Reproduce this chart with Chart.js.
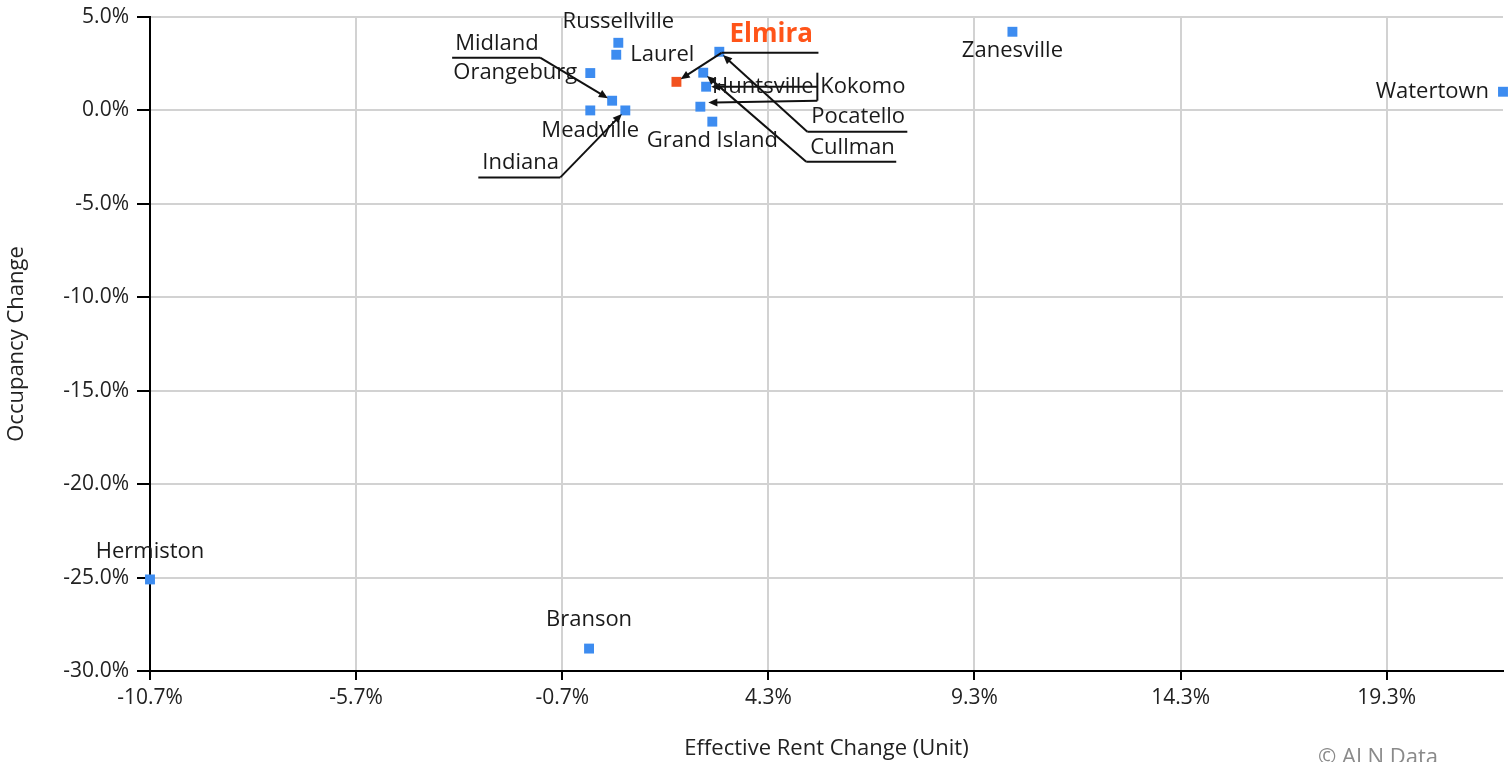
<!DOCTYPE html>
<html>
<head>
<meta charset="utf-8">
<script src="https://cdn.jsdelivr.net/npm/chart.js@4"></script>
<style>
html,body{margin:0;padding:0;background:#fff;}
#wrap{position:relative;width:1512px;height:762px;}
</style>
</head>
<body>
<div id="wrap"><canvas id="c" width="1512" height="762"></canvas></div>
<script>
// ---- data ----
const markets = ['Hermiston','Branson','Meadville','Orangeburg','Midland','Indiana','Laurel','Russellville','Elmira','Cullman','Huntsville','Kokomo','Grand Island','Pocatello','Zanesville','Watertown'];
const rentChange = [-10.7, -0.05, -0.02, -0.02, 0.51, 0.83, 0.61, 0.66, 2.07, 2.72, 2.79, 2.65, 2.94, 3.11, 10.22, 22.12];
const occupancyChange = [-25.1, -28.8, 0.0, 2.0, 0.52, 0.0, 2.98, 3.62, 1.53, 2.02, 1.27, 0.2, -0.6, 3.14, 4.21, 1.0];
const highlightMarket = 'Elmira';
const yTicks = [5, 0, -5, -10, -15, -20, -25, -30];
const xTickStart = -10.7, xTickStep = 5;

// ---- label layout (pixel offsets from each marker) ----
const labelLayout = {
  'Hermiston':   {dx: 0, dy: -28, align: 'center'},
  'Branson':     {dx: 0, dy: -29, align: 'center'},
  'Meadville':   {dx: 0, dy: 20, align: 'center'},
  'Orangeburg':  {dx: -13, dy: 0, align: 'right'},
  'Laurel':      {dx: 14, dy: 0, align: 'left'},
  'Russellville':{dx: 0, dy: -21, align: 'center'},
  'Grand Island':{dx: 0, dy: 19, align: 'center'},
  'Zanesville':  {dx: 0, dy: 19, align: 'center'},
  'Watertown':   {dx: -14, dy: 0, align: 'right'},
  'Midland':     {dx: -157, dy: -57, align: 'left', path: [[-160,-43],[-72,-43],[0,0]]},
  'Indiana':     {dx: -143, dy: 52, align: 'left', path: [[-147,67],[-65,67],[0,0]]},
  'Elmira':      {dx: 53, dy: -47, align: 'left', path: [[142,-29],[45,-29],[0,0]]},
  'Pocatello':   {dx: 92, dy: 65, align: 'left', path: [[188,80],[88,80],[0,0]]},
  'Cullman':     {dx: 107, dy: 75, align: 'left', path: [[193,89],[103,89],[0,0]]},
  'Kokomo':      {dx: 120, dy: -20, align: 'left', path: [[117,-34],[117,-6],[3,-4]]},
  'Huntsville':  {dx: 6, dy: 0, align: 'left', path: [[111,0],[0,0]]}
};

const BLUE = '#3d8cf0', ORANGE = '#f2521f', FONT = "'Open Sans', sans-serif";

const points = markets.map((m, i) => ({x: rentChange[i], y: occupancyChange[i], name: m}));
const colors = markets.map(m => m === highlightMarket ? ORANGE : BLUE);

function arrow(ctx, x1, y1, x2, y2) {
  const ang = Math.atan2(y2 - y1, x2 - x1);
  const tx = x2 - Math.cos(ang) * 5, ty = y2 - Math.sin(ang) * 5;
  ctx.beginPath();
  ctx.moveTo(x1, y1);
  ctx.lineTo(tx - Math.cos(ang) * 6, ty - Math.sin(ang) * 6);
  ctx.stroke();
  ctx.beginPath();
  ctx.moveTo(tx, ty);
  ctx.lineTo(tx - Math.cos(ang) * 9 + Math.sin(ang) * 4, ty - Math.sin(ang) * 9 - Math.cos(ang) * 4);
  ctx.lineTo(tx - Math.cos(ang) * 9 - Math.sin(ang) * 4, ty - Math.sin(ang) * 9 + Math.cos(ang) * 4);
  ctx.closePath();
  ctx.fill();
}

const labelPlugin = {
  id: 'labels',
  afterDatasetsDraw(chart) {
    const ctx = chart.ctx;
    const meta = chart.getDatasetMeta(0);
    ctx.save();
    meta.data.forEach((el, i) => {
      const name = markets[i];
      const L = labelLayout[name];
      if (!L) return;
      const px = el.x, py = el.y;
      if (L.path) {
        ctx.strokeStyle = '#111';
        ctx.fillStyle = '#111';
        ctx.lineWidth = 2;
        const p = L.path.map(q => [px + q[0], py + q[1]]);
        if (p.length > 2) {
          ctx.beginPath();
          ctx.moveTo(p[0][0], p[0][1]);
          for (let k = 1; k < p.length - 1; k++) ctx.lineTo(p[k][0], p[k][1]);
          ctx.stroke();
        }
        const a = p[p.length - 2], b = p[p.length - 1];
        arrow(ctx, a[0], a[1], b[0], b[1]);
      }
      const hl = name === highlightMarket;
      ctx.font = (hl ? 'bold 26px ' : '22px ') + FONT;
      ctx.fillStyle = hl ? '#ff5419' : '#1a1a1a';
      ctx.textAlign = L.align;
      ctx.textBaseline = 'middle';
      ctx.fillText(name, px + L.dx, py + L.dy);
    });
    ctx.restore();
  },
  afterDraw(chart) {
    const ctx = chart.ctx;
    ctx.save();
    ctx.font = '22px ' + FONT;
    ctx.fillStyle = '#8a8a8a';
    ctx.textAlign = 'left';
    ctx.textBaseline = 'middle';
    ctx.fillText('\u00A9 ALN Data', 1318, 758);
    ctx.restore();
  }
};

new Chart(document.getElementById('c'), {
  type: 'scatter',
  data: {
    datasets: [{
      data: points,
      pointStyle: 'rect',
      pointRadius: 7,
      pointHoverRadius: 7,
      pointBorderWidth: 0,
      pointBackgroundColor: colors,
      pointBorderColor: colors,
      clip: false
    }]
  },
  options: {
    responsive: false,
    animation: false,
    events: [],
    layout: {padding: {top: 17, right: 9, left: 0, bottom: 0}},
    plugins: {legend: {display: false}, tooltip: {enabled: false}},
    scales: {
      x: {
        type: 'linear',
        min: Math.min(...rentChange),
        max: Math.max(...rentChange),
        afterBuildTicks(axis) {
          const t = [];
          for (let v = xTickStart; v <= axis.max + 1e-9; v += xTickStep) t.push({value: +v.toFixed(2)});
          axis.ticks = t;
        },
        afterFit(axis) { axis.height = 91; axis.paddingLeft = 0; axis.paddingRight = 0; },
        ticks: {
          color: '#222', font: {family: FONT, size: 21}, padding: 5,
          callback: v => v.toFixed(1) + '%'
        },
        grid: {color: '#d2d2d2', lineWidth: 2, tickColor: '#000', tickLength: 9, tickWidth: 2},
        border: {color: '#000', width: 2},
        title: {display: true, text: 'Effective Rent Change (Unit)', color: '#222', font: {family: FONT, size: 22}, padding: {top: 22, bottom: 0}}
      },
      y: {
        type: 'linear',
        min: -30, max: 5,
        afterBuildTicks(axis) { axis.ticks = yTicks.map(v => ({value: v})); },
        afterFit(axis) { axis.width = 150; axis.paddingTop = 0; axis.paddingBottom = 0; },
        ticks: {
          color: '#222', font: {family: FONT, size: 21}, padding: 8,
          callback: v => v.toFixed(1) + '%'
        },
        grid: {color: '#d2d2d2', lineWidth: 2, tickColor: '#000', tickLength: 13, tickWidth: 2},
        border: {color: '#000', width: 2},
        title: {display: true, text: 'Occupancy Change', color: '#222', font: {family: FONT, size: 22}, padding: {bottom: 8}}
      }
    }
  },
  plugins: [labelPlugin]
});
</script>
</body>
</html>
